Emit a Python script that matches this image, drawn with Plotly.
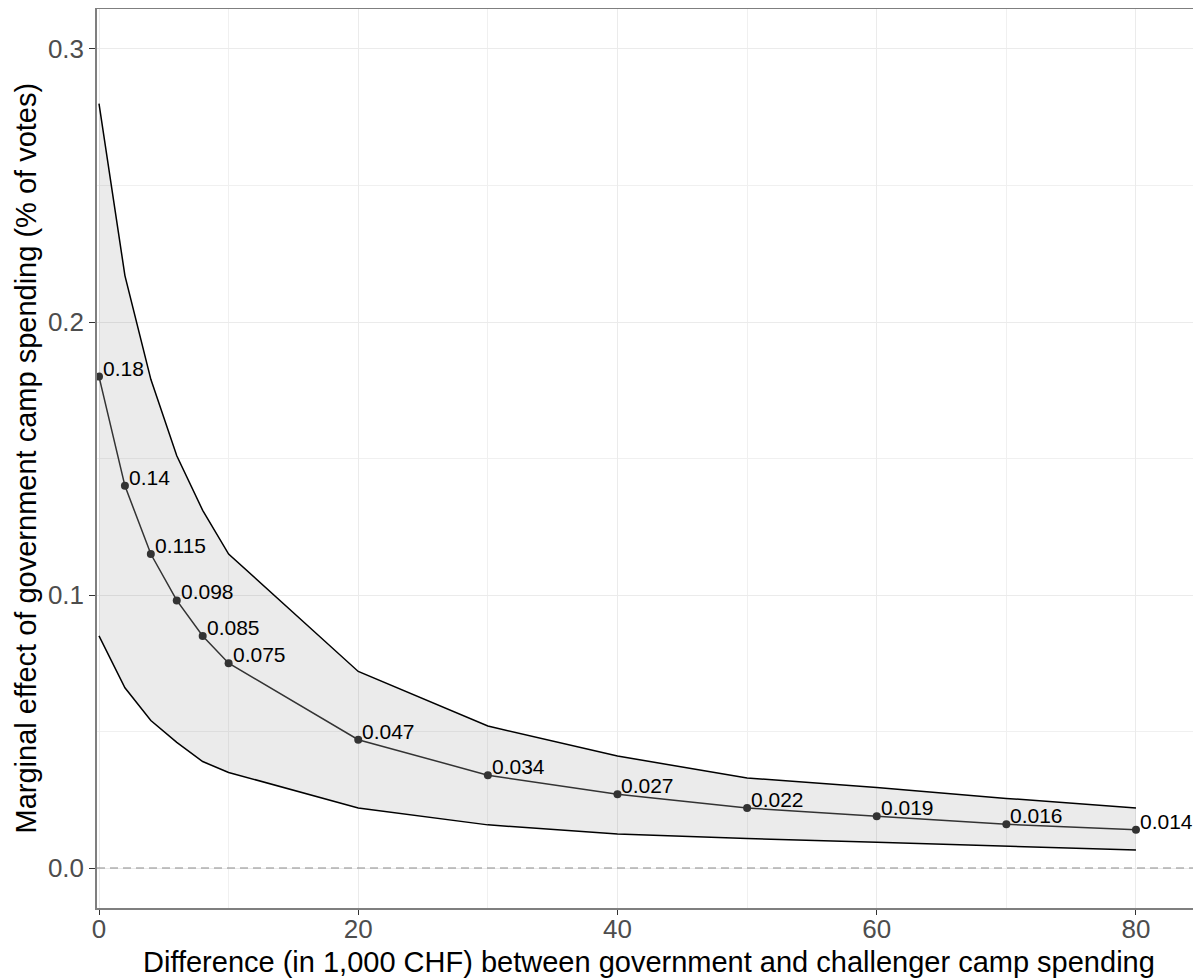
import plotly.graph_objects as go

# ---- data ----
x_vals = [0, 2, 4, 6, 8, 10, 20, 30, 40, 50, 60, 70, 80]
mean_vals = [0.18, 0.14, 0.115, 0.098, 0.085, 0.075, 0.047, 0.034, 0.027, 0.022, 0.019, 0.016, 0.014]
upper_vals = [0.280, 0.217, 0.179, 0.151, 0.131, 0.115, 0.072, 0.052, 0.041, 0.033, 0.0295, 0.0255, 0.022]
lower_vals = [0.085, 0.066, 0.054, 0.046, 0.039, 0.035, 0.022, 0.0158, 0.0125, 0.0108, 0.0094, 0.0081, 0.0066]
labels = ["0.18", "0.14", "0.115", "0.098", "0.085", "0.075", "0.047", "0.034",
          "0.027", "0.022", "0.019", "0.016", "0.014"]

x_ticks = [0, 20, 40, 60, 80]
y_ticks = [0.0, 0.1, 0.2, 0.3]
y_tick_labels = ["0.0", "0.1", "0.2", "0.3"]
x_minor = [10, 30, 50, 70]
y_minor = [0.05, 0.15, 0.25]

x_title = "Difference (in 1,000 CHF) between government and challenger camp spending"
y_title = "Marginal effect of government camp spending (% of votes)"

FONT = "Liberation Sans, Arial, sans-serif"

fig = go.Figure()

# ribbon
fig.add_trace(go.Scatter(x=x_vals, y=lower_vals, mode="lines",
                         line=dict(color="black", width=1.5), showlegend=False, hoverinfo="skip"))
fig.add_trace(go.Scatter(x=x_vals, y=upper_vals, mode="lines", fill="tonexty",
                         fillcolor="rgba(0,0,0,0.08)",
                         line=dict(color="black", width=1.5), showlegend=False, hoverinfo="skip"))
# mean line + points
fig.add_trace(go.Scatter(x=x_vals, y=mean_vals, mode="lines+markers",
                         line=dict(color="#333333", width=1.5),
                         marker=dict(color="#333333", size=8),
                         showlegend=False, hoverinfo="skip"))

# value labels
for xv, yv, lab in zip(x_vals, mean_vals, labels):
    fig.add_annotation(x=xv, y=yv, text=lab, showarrow=False,
                       xanchor="left", yanchor="bottom", xshift=2, yshift=-5,
                       font=dict(family=FONT, size=21, color="black"))

# horizontal dashed line at zero
fig.add_shape(type="line", xref="paper", yref="y", x0=0, x1=1, y0=0, y1=0,
              line=dict(color="#8C8C8C", width=1.2, dash="8px,5px"), layer="above")

# axis titles as annotations
fig.add_annotation(text=x_title, xref="paper", yref="paper", x=0.5, y=0,
                   yanchor="middle", yshift=-54, showarrow=False,
                   font=dict(family=FONT, size=29, color="black"))
fig.add_annotation(text=y_title, xref="paper", yref="paper", x=0, y=0.5,
                   xanchor="center", xshift=-72, textangle=-90, showarrow=False,
                   font=dict(family=FONT, size=29, color="black"))

fig.update_xaxes(range=[-0.154, 84.94], tickvals=x_ticks, ticks="outside", ticklen=5,
                 tickcolor="#333333", tickfont=dict(family=FONT, size=26, color="#4D4D4D"),
                 ticklabelstandoff=-8,
                 showgrid=True, gridcolor="#EBEBEB", gridwidth=1.2,
                 minor=dict(tickvals=x_minor, showgrid=True, gridcolor="#F0F0F0", gridwidth=0.8, ticks=""),
                 showline=True, linecolor="#7F7F7F", linewidth=1.5, mirror=True,
                 zeroline=False)
fig.update_yaxes(range=[-0.01465, 0.31465], tickvals=y_ticks, ticktext=y_tick_labels,
                 ticks="outside", ticklen=6,
                 tickcolor="#333333", tickfont=dict(family=FONT, size=26, color="#4D4D4D"),
                 showgrid=True, gridcolor="#EBEBEB", gridwidth=1.2,
                 minor=dict(tickvals=y_minor, showgrid=True, gridcolor="#F0F0F0", gridwidth=0.8, ticks=""),
                 showline=True, linecolor="#7F7F7F", linewidth=1.5, mirror=False,
                 zeroline=False)

# the page body adds an 8px offset, so the figure is sized to fill the rest
fig.update_layout(width=1193, height=972,
                  margin=dict(l=89, r=1, t=1, b=72, autoexpand=False),
                  paper_bgcolor="white", plot_bgcolor="white",
                  font=dict(family=FONT))

fig.write_html("out.html")
